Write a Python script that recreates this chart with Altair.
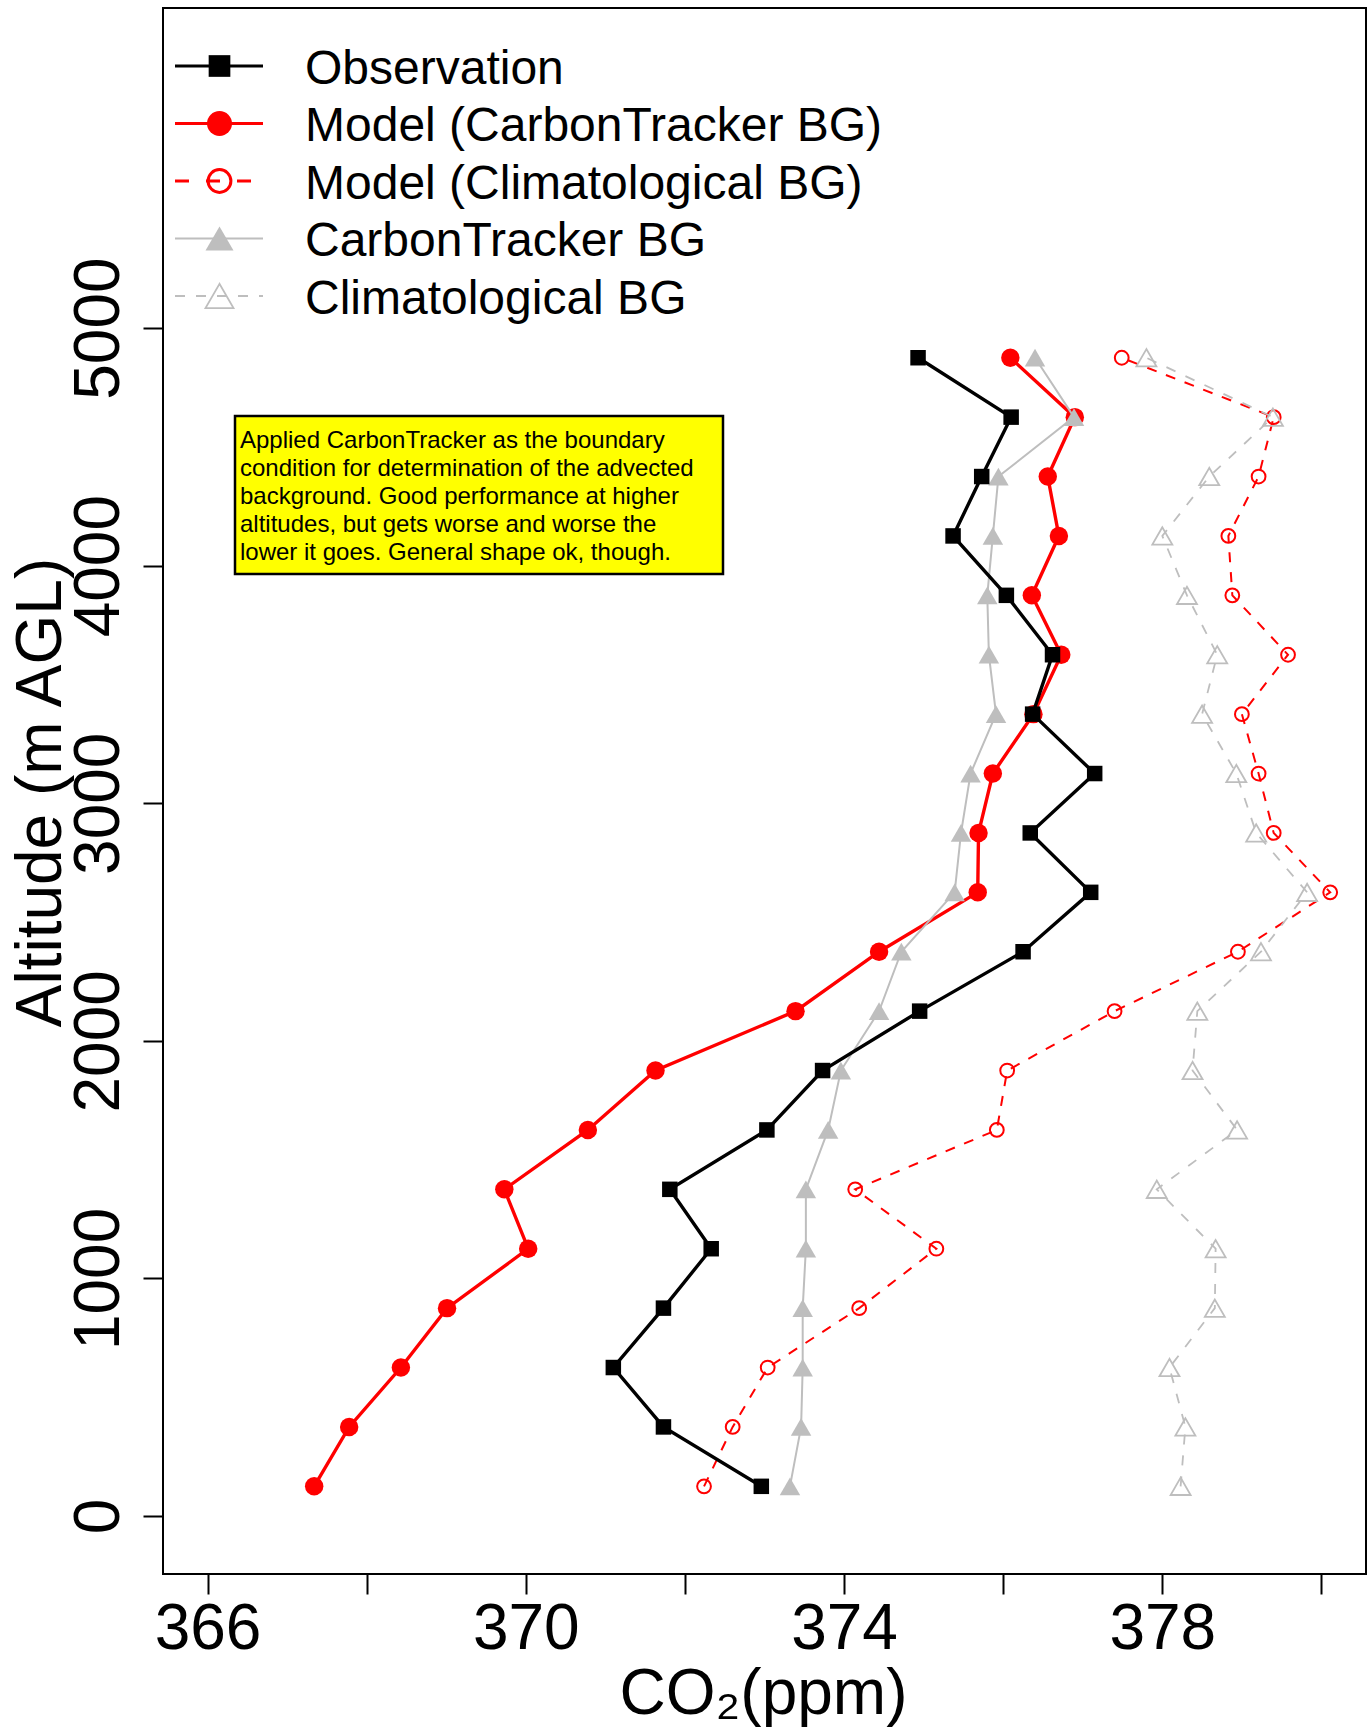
import altair as alt
import pandas as pd

FONT = "Liberation Sans"

# ---------------- data ----------------
altitude = [125, 375, 625, 875, 1125, 1375, 1625, 1875, 2125, 2375,
            2625, 2875, 3125, 3375, 3625, 3875, 4125, 4375, 4625, 4875]

observation = [372.96, 371.73, 371.10, 371.73, 372.33, 371.81, 373.03, 373.73, 374.95, 376.25,
               377.10, 376.34, 377.15, 376.37, 376.62, 376.04, 375.37, 375.73, 376.10, 374.93]

model_ct = [367.34, 367.78, 368.43, 369.01, 370.03, 369.73, 370.78, 371.63, 373.39, 374.44,
            375.68, 375.69, 375.87, 376.38, 376.73, 376.36, 376.70, 376.56, 376.90, 376.09]

model_clim = [372.24, 372.60, 373.04, 374.19, 375.16, 374.14, 375.92, 376.05, 377.40, 378.95,
              380.11, 379.40, 379.21, 379.00, 379.58, 378.88, 378.83, 379.21, 379.40, 377.49]

ct_bg = [373.32, 373.46, 373.48, 373.48, 373.52, 373.52, 373.80, 373.96, 374.44, 374.72,
         375.39, 375.47, 375.59, 375.91, 375.82, 375.80, 375.87, 375.94, 376.89, 376.40]

clim_bg = [378.23, 378.29, 378.09, 378.66, 378.67, 377.93, 378.94, 378.38, 378.44, 379.24,
           379.82, 379.18, 378.93, 378.50, 378.69, 378.31, 378.00, 378.59, 379.39, 377.80]

series_names = ["Observation", "Model (CarbonTracker BG)", "Model (Climatological BG)",
                "CarbonTracker BG", "Climatological BG"]
series_values = [observation, model_ct, model_clim, ct_bg, clim_bg]

x_ticks = [366, 368, 370, 372, 374, 376, 378, 380]
y_ticks = [0, 1000, 2000, 3000, 4000, 5000]

note_lines = ["Applied CarbonTracker as the boundary",
              "condition for determination of the advected",
              "background. Good performance at higher",
              "altitudes, but gets worse and worse the",
              "lower it goes. General shape ok, though."]

# ---------------- styles ----------------
styles = {
    "Observation": dict(color="black", lw=3.4, dash=None, shape="square", filled=True, size=240, sw=0,
                        lg_lw=3.2, lg_dash=None, lg_size=470, lg_sw=0),
    "Model (CarbonTracker BG)": dict(color="#FF0000", lw=3.4, dash=None, shape="circle", filled=True, size=340, sw=0,
                                     lg_lw=3.2, lg_dash=None, lg_size=625, lg_sw=0),
    "Model (Climatological BG)": dict(color="#FF0000", lw=2, dash=[10, 10], shape="circle", filled=False, size=190, sw=2,
                                      lg_lw=3, lg_dash=[14, 17], lg_size=520, lg_sw=3),
    "CarbonTracker BG": dict(color="#BEBEBE", lw=2, dash=None, shape="triangle-up", filled=True, size=420, sw=0,
                             lg_lw=2, lg_dash=None, lg_size=784, lg_sw=0),
    "Climatological BG": dict(color="#BEBEBE", lw=1.8, dash=[10, 11], shape="triangle-up", filled=False, size=400, sw=1.8,
                              lg_lw=1.8, lg_dash=[10, 11], lg_size=784, lg_sw=1.8),
}

draw_order = ["Model (CarbonTracker BG)", "Model (Climatological BG)", "Climatological BG",
              "CarbonTracker BG", "Observation"]

xscale = alt.Scale(domain=[365.44, 380.56], nice=False, zero=False)
yscale = alt.Scale(domain=[-244, 6347], nice=False, zero=False)

x_axis = alt.Axis(
    values=x_ticks,
    labelExpr="(datum.value - 366) % 4 == 0 ? datum.label : ''",
    tickSize=20, tickWidth=2, tickColor="black", domain=False, grid=False,
    labelFont=FONT, labelFontSize=64, labelColor="black", labelPadding=3,
    labelOverlap=False, labelFlush=False,
    title="CO\u2082(ppm)", titleFont=FONT, titleFontSize=64, titleFontWeight="normal",
    titleColor="black", titleX=600, titleY=139, titleAlign="center", titleBaseline="alphabetic",
)
y_axis = alt.Axis(
    values=y_ticks, format="d",
    tickSize=20, tickWidth=2, tickColor="black", domain=False, grid=False,
    labelFont=FONT, labelFontSize=64, labelColor="black", labelPadding=25,
    labelAngle=270, labelAlign="center", labelBaseline="alphabetic",
    labelOverlap=False, labelFlush=False,
    title="Altitude (m AGL)", titleFont=FONT, titleFontSize=64, titleFontWeight="normal",
    titleColor="black", titleAngle=270, titleX=-103, titleY=784,
    titleAlign="center", titleBaseline="alphabetic",
)

layers = []
for name in draw_order:
    st = styles[name]
    vals = series_values[series_names.index(name)]
    df = pd.DataFrame({"co2": vals, "altitude": altitude})
    enc = dict(
        x=alt.X("co2:Q", scale=xscale, axis=x_axis),
        y=alt.Y("altitude:Q", scale=yscale, axis=y_axis),
    )
    line_kw = dict(color=st["color"], strokeWidth=st["lw"], clip=True)
    if st["dash"]:
        line_kw["strokeDash"] = st["dash"]
    line = alt.Chart(df).mark_line(**line_kw).encode(order=alt.Order("altitude:Q"), **enc)
    pt_kw = dict(shape=st["shape"], filled=st["filled"], size=st["size"], color=st["color"], opacity=1)
    if not st["filled"]:
        pt_kw["strokeWidth"] = st["sw"]
    pts = alt.Chart(df).mark_point(**pt_kw).encode(**enc)
    layers += [line, pts]

# ---------------- legend (drawn, R-style, no box) ----------------
one = pd.DataFrame({"k": [0]})
for i, name in enumerate(series_names):
    st = styles[name]
    yy = 58 + 57.5 * i
    rule_kw = dict(color=st["color"], strokeWidth=st["lg_lw"])
    if st["lg_dash"]:
        rule_kw["strokeDash"] = st["lg_dash"]
    layers.append(alt.Chart(one).mark_rule(**rule_kw).encode(
        x=alt.value(12), x2=alt.value(100), y=alt.value(yy)))
    pk = dict(shape=st["shape"], filled=st["filled"], size=st["lg_size"], color=st["color"], opacity=1)
    if not st["filled"]:
        pk["strokeWidth"] = st["lg_sw"]
    layers.append(alt.Chart(one).mark_point(**pk).encode(x=alt.value(56.5), y=alt.value(yy)))
    layers.append(alt.Chart(one).mark_text(
        text=name, align="left", baseline="alphabetic", font=FONT, fontSize=48, color="black"
    ).encode(x=alt.value(142), y=alt.value(yy + 17.5)))

# ---------------- annotation box ----------------
layers.append(alt.Chart(one).mark_rect(fill="#FFFF00", stroke="black", strokeWidth=2.5).encode(
    x=alt.value(72), x2=alt.value(560), y=alt.value(408), y2=alt.value(566)))
layers.append(alt.Chart(one).mark_text(
    text=note_lines, align="left", baseline="alphabetic", font=FONT, fontSize=24,
    lineHeight=28, color="black"
).encode(x=alt.value(77), y=alt.value(440)))

chart = alt.layer(*layers).properties(
    width=1203, height=1566,
    padding={"left": 163, "top": 8, "right": 1, "bottom": 156},
    autosize=alt.AutoSizeParams(type="none"),
    background="white",
).configure_view(stroke="black", strokeWidth=2)

chart.save("out.html", embed_options={"renderer": "svg", "actions": False})
